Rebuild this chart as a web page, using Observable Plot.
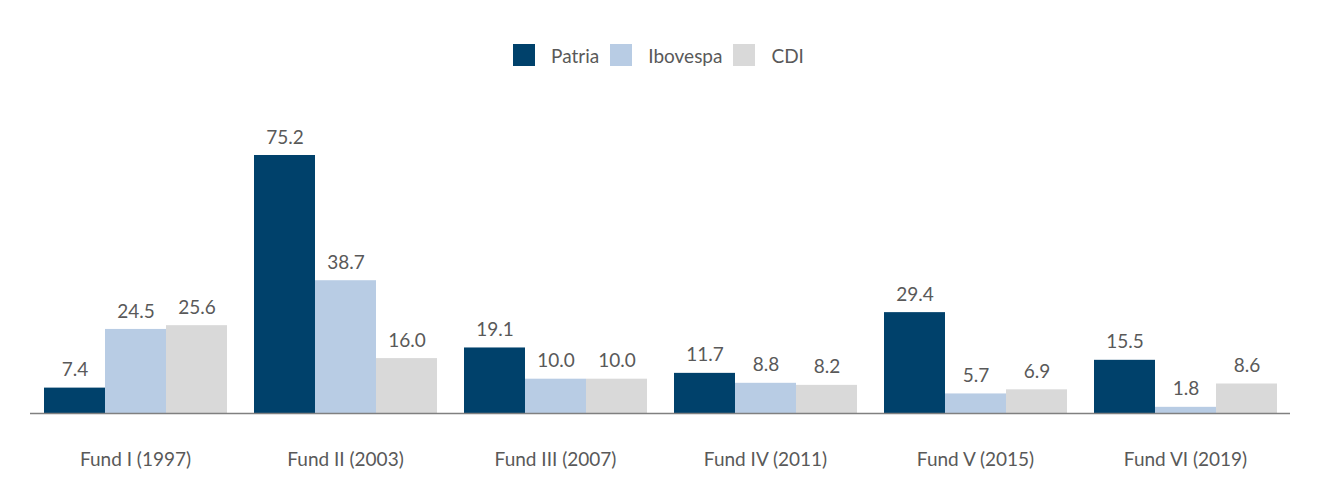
<!DOCTYPE html>
<html><head><meta charset="utf-8">
<script src="https://cdn.jsdelivr.net/npm/d3@7"></script>
<script src="https://cdn.jsdelivr.net/npm/@observablehq/plot@0.6"></script>
<style>
body{margin:0;background:#fff;font-family:Lato,"Open Sans",sans-serif;}
#legend{height:100px;box-sizing:border-box;padding-top:44px;display:flex;justify-content:center;align-items:flex-start;padding-left:8px;}
.item{display:flex;align-items:center;height:22px;margin-right:11px;color:#595959;font-size:19px;}
.sw{width:22px;height:22px;margin-right:16px;}
</style></head><body>
<div id="legend"></div>
<div id="chart"></div>
<script>
const funds = ["Fund I (1997)","Fund II (2003)","Fund III (2007)","Fund IV (2011)","Fund V (2015)","Fund VI (2019)"];
const series = ["Patria","Ibovespa","CDI"];
const patria = [7.4,75.2,19.1,11.7,29.4,15.5];
const ibovespa = [24.5,38.7,10.0,8.8,5.7,1.8];
const cdi = [25.6,16.0,10.0,8.2,6.9,8.6];
const colors = ["#00416b","#b8cce4","#d9d9d9"];

const seriesValues = [patria, ibovespa, cdi];
const data = [];
funds.forEach((f,i)=>series.forEach((s,j)=>data.push({fund:f, series:s, value:seriesValues[j][i]})));

const legend = document.getElementById("legend");
series.forEach((s,j)=>{
  const it = document.createElement("div"); it.className="item";
  const sw = document.createElement("div"); sw.className="sw"; sw.style.background=colors[j];
  const t = document.createElement("span"); t.textContent=s;
  it.appendChild(sw); it.appendChild(t); legend.appendChild(it);
});

const chart = Plot.plot({
  width:1320, height:400,
  marginTop:20, marginBottom:87, marginLeft:30, marginRight:30,
  fx:{domain:funds, paddingInner:0, paddingOuter:0, label:null},
  x:{domain:series, paddingInner:0, paddingOuter:0.207, axis:null},
  y:{domain:[0,85.4], axis:null},
  color:{domain:series, range:colors},
  style:{fontFamily:"Lato, 'Open Sans', sans-serif", fontSize:"19px", color:"#595959", background:"#fff"},
  marks:[
    Plot.barY(data,{fx:"fund", x:"series", y:"value", fill:"series", insetLeft:0, insetRight:0}),
    Plot.text(data,{fx:"fund", x:"series", y:"value", text:d=>d.value.toFixed(1), dy:-18, fill:"#595959", fontSize:19}),
    Plot.ruleY([0],{stroke:"#808080", strokeWidth:1.5}),
    Plot.axisFx({anchor:"bottom", tickSize:0, tickPadding:39, fontSize:19, label:null, fill:"#595959"})
  ]
});
document.getElementById("chart").appendChild(chart);
</script>
</body></html>
